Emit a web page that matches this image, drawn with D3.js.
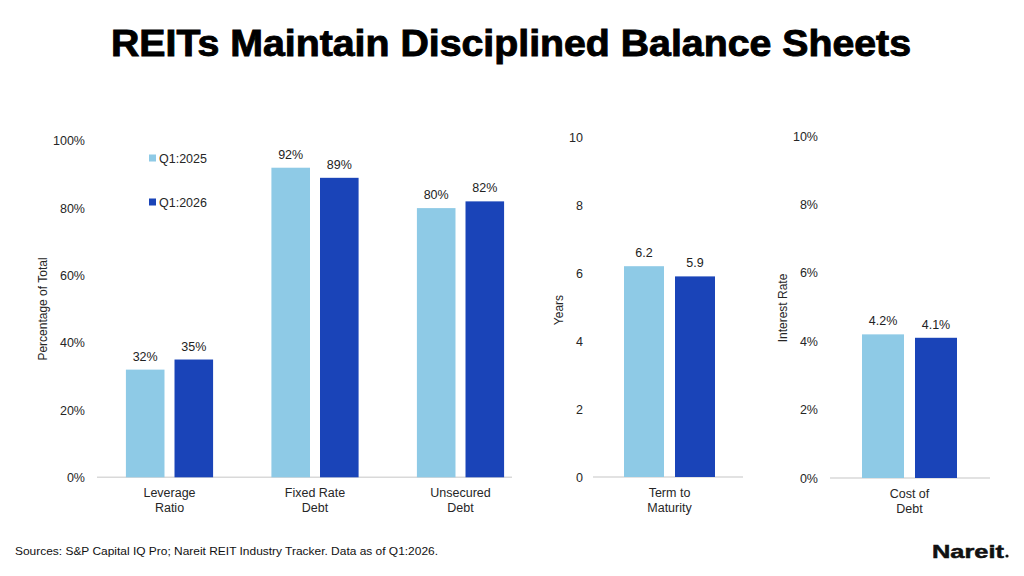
<!DOCTYPE html>
<html><head><meta charset="utf-8">
<script src="https://cdn.jsdelivr.net/npm/d3@7"></script>
<style>
html,body{margin:0;padding:0;background:#fff;}
text{font-family:"Liberation Sans",Arial,sans-serif;}
</style></head>
<body>
<svg id="c" width="1024" height="576"></svg>
<script>
const series = ["Q1:2025", "Q1:2026"];
const colors = ["#8ECAE6", "#1A44B8"];

const pctCategories = ["Leverage\nRatio", "Fixed Rate\nDebt", "Unsecured\nDebt"];
const pct2025 = [0.32, 0.92, 0.80];
const pct2026 = [0.35, 0.89, 0.82];
const pctTicks = [0, 0.2, 0.4, 0.6, 0.8, 1.0];

const termCategories = ["Term to\nMaturity"];
const term2025 = [6.2];
const term2026 = [5.9];
const termTicks = [0, 2, 4, 6, 8, 10];

const costCategories = ["Cost of\nDebt"];
const cost2025 = [0.042];
const cost2026 = [0.041];
const costTicks = [0, 0.02, 0.04, 0.06, 0.08, 0.10];

const svg = d3.select("#c");

svg.append("text").attr("x", 511).attr("y", 56).attr("text-anchor", "middle")
  .attr("font-size", 36).attr("font-weight", "bold").attr("fill", "#000")
  .attr("stroke", "#000").attr("stroke-width", 0.9)
  .attr("textLength", 800).attr("lengthAdjust", "spacingAndGlyphs")
  .text("REITs Maintain Disciplined Balance Sheets");

function panel(cfg) {
  const g = svg.append("g");
  const y = d3.scaleLinear().domain(cfg.domain).range(cfg.yRange);
  const x0 = d3.scaleBand().domain(cfg.categories).range(cfg.xRange).paddingInner(0).paddingOuter(0);
  const x1 = d3.scaleBand().domain(series).range([0, x0.bandwidth()]).paddingInner(cfg.pi).paddingOuter(cfg.po);

  const ax = g.append("g").attr("transform", `translate(${cfg.axisX},0)`)
    .call(d3.axisLeft(y).tickValues(cfg.ticks).tickSize(0).tickPadding(0).tickFormat(cfg.tickFmt));
  ax.select(".domain").remove();
  ax.selectAll("text").attr("font-size", 12.5).attr("fill", "#262626")
    .attr("font-family", "Liberation Sans, Arial, sans-serif");

  g.append("line").attr("x1", cfg.lineX[0]).attr("x2", cfg.lineX[1])
    .attr("y1", y(0)).attr("y2", y(0)).attr("stroke", "#d9d9d9").attr("stroke-width", 1.5);

  const data = [];
  cfg.categories.forEach((c, i) => {
    series.forEach((s, j) => data.push({c, s, j, v: cfg.values[j][i]}));
  });

  g.selectAll("rect.bar").data(data).join("rect").attr("class", "bar")
    .attr("x", d => x0(d.c) + x1(d.s)).attr("width", x1.bandwidth())
    .attr("y", d => y(d.v)).attr("height", d => y(0) - y(d.v))
    .attr("fill", d => colors[d.j]);

  g.selectAll("text.val").data(data).join("text").attr("class", "val")
    .attr("x", d => x0(d.c) + x1(d.s) + x1.bandwidth() / 2)
    .attr("y", d => y(d.v) - 9).attr("text-anchor", "middle")
    .attr("font-size", 12.5).attr("fill", "#222").text(d => cfg.valFmt(d.v));

  cfg.categories.forEach(c => {
    const lines = c.split("\n");
    const t = g.append("text").attr("text-anchor", "middle").attr("font-size", 12.5).attr("fill", "#262626");
    lines.forEach((l, k) => {
      t.append("tspan").attr("x", x0(c) + x0.bandwidth() / 2).attr("y", y(0) + 20 + k * 14.5).text(l);
    });
  });

  g.append("text").attr("transform", `translate(${cfg.titlePos[0]},${cfg.titlePos[1]}) rotate(-90)`)
    .attr("text-anchor", "middle").attr("font-size", 12).attr("fill", "#262626").text(cfg.title);
}

panel({
  categories: pctCategories, values: [pct2025, pct2026], domain: [0, 1], yRange: [477.3, 140.8],
  ticks: pctTicks, tickFmt: d3.format(".0%"), valFmt: d3.format(".0%"),
  xRange: [96.75, 533.25], pi: 0.206, po: 0.6, axisX: 85, lineX: [97, 512],
  title: "Percentage of Total", titlePos: [47, 309]
});
panel({
  categories: termCategories, values: [term2025, term2026], domain: [0, 10], yRange: [477, 137],
  ticks: termTicks, tickFmt: d3.format("d"), valFmt: d3.format(".1f"),
  xRange: [593, 746], pi: 0.216, po: 0.608, axisX: 583, lineX: [593, 743],
  title: "Years", titlePos: [563, 310]
});
panel({
  categories: costCategories, values: [cost2025, cost2026], domain: [0, 0.1], yRange: [478, 136],
  ticks: costTicks, tickFmt: d3.format(".0%"), valFmt: d3.format(".1%"),
  xRange: [830, 989], pi: 0.2075, po: 0.604, axisX: 818, lineX: [830, 990],
  title: "Interest Rate", titlePos: [787, 308]
});

// legend
const leg = svg.append("g");
series.forEach((s, i) => {
  const yy = 158 + i * 44;
  leg.append("rect").attr("x", 149).attr("y", yy - 3.5).attr("width", 7).attr("height", 7).attr("fill", colors[i]);
  leg.append("text").attr("x", 159).attr("y", yy + 4.5).attr("font-size", 12.5).attr("fill", "#262626").text(s);
});

// footer
svg.append("text").attr("x", 15).attr("y", 555).attr("font-size", 11).attr("fill", "#111")
  .attr("textLength", 423).attr("lengthAdjust", "spacingAndGlyphs")
  .text("Sources: S&P Capital IQ Pro; Nareit REIT Industry Tracker. Data as of Q1:2026.");
svg.append("text").attr("x", 932).attr("y", 558).attr("font-size", 19).attr("font-weight", "bold").attr("fill", "#111")
  .attr("stroke", "#111").attr("stroke-width", 0.5)
  .attr("textLength", 72).attr("lengthAdjust", "spacingAndGlyphs").text("Nareit");
svg.append("circle").attr("cx", 1007).attr("cy", 556).attr("r", 1.6).attr("fill", "#111");
</script>
</body></html>
